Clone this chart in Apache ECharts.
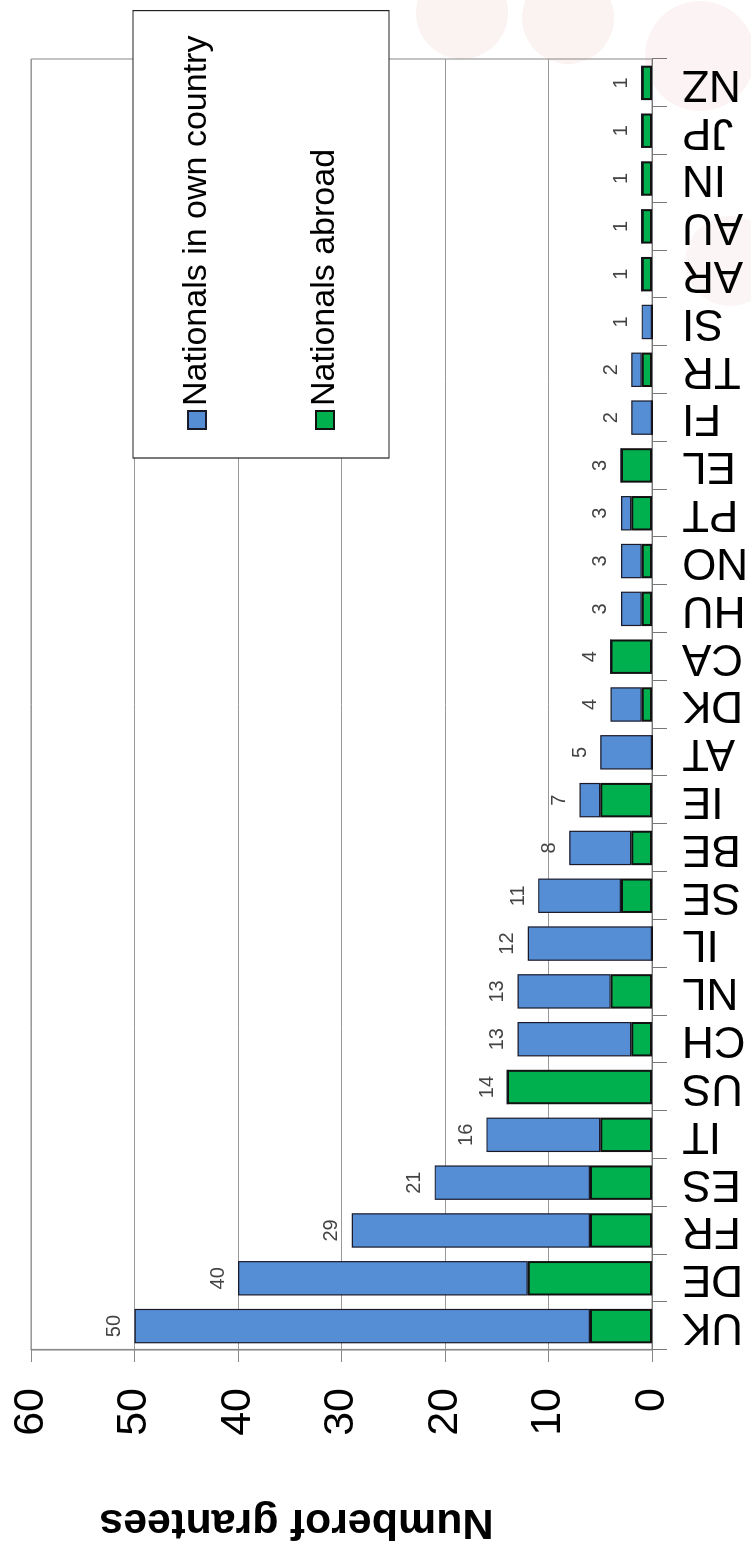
<!DOCTYPE html>
<html>
<head>
<meta charset="utf-8">
<title>Number of grantees</title>
<script src="https://cdn.jsdelivr.net/npm/echarts/dist/echarts.min.js"></script>
<style>
  html, body { margin: 0; padding: 0; background: #fff; overflow: hidden; }
  /* the chart is drawn upright and then turned a quarter turn to the left */
  #chart {
    position: absolute; left: 0; top: 0;
    width: 1561px; height: 751px;
    transform-origin: 0 0;
    transform: translateY(1561px) rotate(-90deg);
  }
</style>
</head>
<body>
<div id="chart"></div>
<script>
// 国家代码
const countries = ['UK', 'DE', 'FR', 'ES', 'IT', 'US', 'CH', 'NL', 'IL', 'SE', 'BE', 'IE', 'AT', 'DK',
  'CA', 'HU', 'NO', 'PT', 'EL', 'FI', 'TR', 'SI', 'AR', 'AU', 'IN', 'JP', 'NZ']
// Nationals in own country
const ownCountry = [44, 28, 23, 15, 11, 0, 11, 9, 12, 8, 6, 2, 5, 3, 0, 2, 2, 1, 0, 2, 1, 1, 0, 0, 0, 0, 0]
// Nationals abroad
const abroad = [6, 12, 6, 6, 5, 14, 2, 4, 0, 3, 2, 5, 0, 1, 4, 1, 1, 2, 3, 0, 1, 0, 1, 1, 1, 1, 1]
// 数值轴刻度
const valueTicks = [0, 10, 20, 30, 40, 50, 60]

const totals = ownCountry.map((v, i) => v + abroad[i])
const font = 'Liberation Sans, Arial, sans-serif'

const chart = echarts.init(document.getElementById('chart'))
const option = {
  backgroundColor: '#fff',
  animation: false,
  textStyle: { fontFamily: font },
  // 背景里淡淡的圆
  graphic: [
    { type: 'circle', shape: { cx: 1548, cy: 462, r: 46 }, style: { fill: '#fbf2f2' }, z: -10 },
    { type: 'circle', shape: { cx: 1543, cy: 568, r: 46 }, style: { fill: '#fbf2f2' }, z: -10 },
    { type: 'circle', shape: { cx: 1505, cy: 700, r: 55 }, style: { fill: '#fcf4f4' }, z: -10 },
    { type: 'circle', shape: { cx: 1300, cy: 730, r: 45 }, style: { fill: '#fcf5f5' }, z: -10 }
  ],
  legend: {
    data: ['Nationals in own country', 'Nationals abroad'],
    orient: 'vertical',
    left: 1103,
    top: 133,
    padding: [47, 25, 47, 28],
    itemGap: 94,
    itemWidth: 18,
    itemHeight: 18,
    icon: 'rect',
    backgroundColor: '#fff',
    borderColor: '#222',
    borderWidth: 1.2,
    textStyle: { fontSize: 34, color: '#000', fontFamily: font }
  },
  grid: {
    left: 211,
    right: 59,
    top: 31,
    bottom: 86,
    show: true,
    borderColor: '#888',
    borderWidth: 1
  },
  xAxis: {
    type: 'category',
    data: countries,
    axisLine: { lineStyle: { color: '#777', width: 1.2 } },
    axisTick: { show: true, length: 15, lineStyle: { color: '#777' } },
    axisLabel: { interval: 0, rotate: 90, fontSize: 44, margin: 30, color: '#000', fontFamily: font }
  },
  yAxis: {
    type: 'value',
    min: valueTicks[0],
    max: valueTicks[valueTicks.length - 1],
    interval: 10,
    name: 'Numberof grantees',
    nameLocation: 'middle',
    nameGap: 150,
    nameTextStyle: {
      fontSize: 43, fontWeight: 'bold', color: '#000', fontFamily: font,
      padding: [0, 0, 0, 90]
    },
    axisLine: { show: true, lineStyle: { color: '#888', width: 1.2 } },
    axisTick: { show: true, length: 12, lineStyle: { color: '#888' } },
    axisLabel: { fontSize: 43, margin: 38, color: '#000', fontFamily: font },
    splitLine: { lineStyle: { color: '#999', width: 1 } }
  },
  series: [
    {
      name: 'Nationals abroad',
      type: 'bar',
      stack: 'total',
      barCategoryGap: '28%',
      data: abroad,
      itemStyle: { color: '#00b04f', borderColor: '#111', borderWidth: 2 }
    },
    {
      name: 'Nationals in own country',
      type: 'bar',
      stack: 'total',
      data: ownCountry,
      itemStyle: { color: '#558ed5', borderColor: '#1a1a2a', borderWidth: 1.2 }
    },
    {
      // 只用来显示总数
      name: 'total',
      type: 'bar',
      barGap: '-100%',
      silent: true,
      data: totals,
      itemStyle: { color: 'rgba(0,0,0,0)' },
      label: { show: true, position: 'top', distance: 10, fontSize: 20, color: '#444', fontFamily: font },
      z: 1
    }
  ]
}
chart.setOption(option)
</script>
</body>
</html>
